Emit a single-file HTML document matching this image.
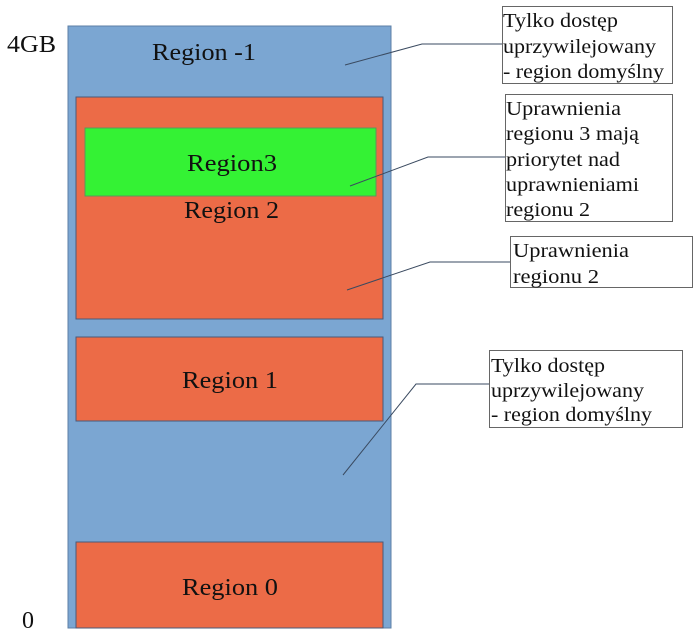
<!DOCTYPE html>
<html><head><meta charset="utf-8"><style>html,body{margin:0;padding:0;background:#fff;width:700px;height:639px;overflow:hidden}svg{display:block}text{font-family:"Liberation Serif",serif;fill:#111}</style></head>
<body>
<svg width="700" height="639" viewBox="0 0 700 639" xmlns="http://www.w3.org/2000/svg">
<rect x="68" y="26" width="323" height="602" fill="#7ba6d2" stroke="#5d7fa6" stroke-width="1"/>
<rect x="76" y="97" width="307" height="222" fill="#ec6b47" stroke="#4a5a7a" stroke-width="1"/>
<rect x="85" y="128" width="291" height="68" fill="#34f234" stroke="#5a9a5a" stroke-width="1"/>
<rect x="76" y="337" width="307" height="84" fill="#ec6b47" stroke="#4a5a7a" stroke-width="1"/>
<rect x="76" y="542" width="307" height="86" fill="#ec6b47" stroke="#4a5a7a" stroke-width="1"/>

<text x="152" y="60" font-size="24" textLength="104" lengthAdjust="spacingAndGlyphs">Region -1</text>
<text x="187" y="171" font-size="24" textLength="90" lengthAdjust="spacingAndGlyphs">Region3</text>
<text x="184" y="218" font-size="24" textLength="95" lengthAdjust="spacingAndGlyphs">Region 2</text>
<text x="182" y="388" font-size="24" textLength="96" lengthAdjust="spacingAndGlyphs">Region 1</text>
<text x="182" y="595" font-size="24" textLength="96" lengthAdjust="spacingAndGlyphs">Region 0</text>
<text x="7" y="52" font-size="24" textLength="49" lengthAdjust="spacingAndGlyphs">4GB</text>
<text x="22" y="628" font-size="24">0</text>

<g fill="none" stroke="#3a4a60" stroke-width="1">
<polyline points="345,65 422,44 502,44"/>
<polyline points="350,186 428,157 505,157"/>
<polyline points="347,290 430,262 510,262"/>
<polyline points="343,475 416,384 489,384"/>
</g>
<g fill="#fff" stroke="#666" stroke-width="1">
<rect x="502.5" y="6.5" width="170" height="77"/>
<rect x="505.5" y="94.5" width="167" height="127"/>
<rect x="510.5" y="236.5" width="182" height="51"/>
<rect x="489.5" y="350.5" width="193" height="77"/>
</g>
<g font-size="20">
<text x="503" y="27" textLength="115" lengthAdjust="spacingAndGlyphs">Tylko dostęp</text>
<text x="503" y="53" textLength="153" lengthAdjust="spacingAndGlyphs">uprzywilejowany</text>
<text x="503" y="78" textLength="161" lengthAdjust="spacingAndGlyphs">- region domyślny</text>

<text x="506" y="115" textLength="115" lengthAdjust="spacingAndGlyphs">Uprawnienia</text>
<text x="506" y="140" textLength="133" lengthAdjust="spacingAndGlyphs">regionu 3 mają</text>
<text x="506" y="166" textLength="114" lengthAdjust="spacingAndGlyphs">priorytet nad</text>
<text x="506" y="191" textLength="133" lengthAdjust="spacingAndGlyphs">uprawnieniami</text>
<text x="506" y="216" textLength="84" lengthAdjust="spacingAndGlyphs">regionu 2</text>

<text x="513" y="257" textLength="116" lengthAdjust="spacingAndGlyphs">Uprawnienia</text>
<text x="513" y="283" textLength="86" lengthAdjust="spacingAndGlyphs">regionu 2</text>

<text x="491" y="372" textLength="114" lengthAdjust="spacingAndGlyphs">Tylko dostęp</text>
<text x="491" y="397" textLength="153" lengthAdjust="spacingAndGlyphs">uprzywilejowany</text>
<text x="491" y="421" textLength="161" lengthAdjust="spacingAndGlyphs">- region domyślny</text>
</g>
</svg>
</body></html>
